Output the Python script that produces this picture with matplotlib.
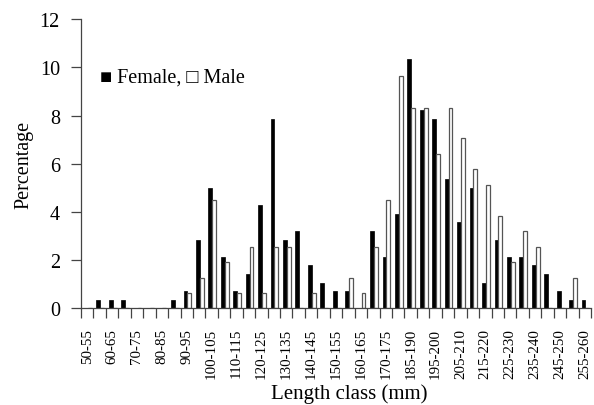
import numpy as np
import matplotlib
matplotlib.use("Agg")
import matplotlib.pyplot as plt

# =========================
# data (percent per length class)
# =========================
LENGTH_CLASSES = [
    "50-55", "55-60", "60-65", "65-70", "70-75", "75-80", "80-85", "85-90",
    "90-95", "95-100", "100-105", "105-110", "110-115", "115-120", "120-125",
    "125-130", "130-135", "135-140", "140-145", "145-150", "150-155",
    "155-160", "160-165", "165-170", "170-175", "175-180", "185-190",
    "190-195", "195-200", "200-205", "205-210", "210-215", "215-220",
    "220-225", "225-230", "230-235", "235-240", "240-245", "245-250",
    "250-255", "255-260",
]

FEMALE = [
    0, 0.36, 0.36, 0.36, 0, 0, 0, 0.36, 0.71, 2.86,
    5.00, 2.14, 0.71, 1.43, 4.29, 7.86, 2.86, 3.21, 1.79, 1.07,
    0.71, 0.71, 0, 3.21, 2.14, 3.93, 10.36, 8.21, 7.86, 5.36,
    3.57, 5.00, 1.07, 2.86, 2.14, 2.14, 1.79, 1.43, 0.71, 0.36,
    0.36,
]

MALE = [
    0, 0, 0, 0, 0, 0, 0, 0, 0.64, 1.28,
    4.49, 1.92, 0.64, 2.56, 0.64, 2.56, 2.56, 0, 0.64, 0,
    0, 1.28, 0.64, 2.56, 4.49, 9.62, 8.33, 8.33, 6.41, 8.33,
    7.05, 5.77, 5.13, 3.85, 1.92, 3.21, 2.56, 0, 0, 1.28,
    0,
]

Y_TICKS = [0, 2, 4, 6, 8, 10, 12]

plt.rcParams["font.family"] = ["Liberation Serif", "DejaVu Serif"]
AXIS_COLOR = "#444444"


def main():
    n = len(LENGTH_CLASSES)
    centers = np.arange(n) + 0.5
    bar_w = 0.31

    fig = plt.figure(figsize=(5.94, 4.06), dpi=100)
    ax = fig.add_axes([0.1364, 0.2377, 0.8586, 0.713])

    ax.bar(centers - 0.105, FEMALE, width=bar_w, color="black",
           edgecolor="black", linewidth=0.5)
    ax.bar(centers + 0.205, MALE, width=bar_w, color="white",
           edgecolor="#555555", linewidth=0.9)

    ax.set_xlim(0, n)
    ax.set_ylim(0, 12)

    # spines
    for side in ["top", "right"]:
        ax.spines[side].set_visible(False)
    for side in ["left", "bottom"]:
        ax.spines[side].set_color(AXIS_COLOR)
        ax.spines[side].set_linewidth(0.9)

    # y axis
    ax.set_yticks(Y_TICKS)
    ax.set_yticklabels([str(v) for v in Y_TICKS])
    ax.tick_params(axis="y", direction="out", length=7.2, width=0.9,
                   color=AXIS_COLOR, labelsize=14.5, pad=8)

    # x axis: ticks on class borders, labels every other class
    ax.set_xticks(np.arange(n + 1))
    ax.set_xticklabels([])
    ax.tick_params(axis="x", which="major", direction="out", length=7.2,
                   width=0.9, color=AXIS_COLOR)
    label_pos = centers[::2]
    ax.set_xticks(label_pos, minor=True)
    ax.set_xticklabels(LENGTH_CLASSES[::2], minor=True, rotation=90,
                       fontsize=10.8)
    ax.tick_params(axis="x", which="minor", length=0, pad=14)

    ax.set_ylabel("Percentage", fontsize=14.5)
    ax.yaxis.set_label_coords(-0.094, 0.5)
    ax.set_xlabel("Length class (mm)", fontsize=15)
    ax.xaxis.set_label_coords(0.525, -0.258)
    ax.xaxis.label.set_va("top")

    # legend written as text like the original
    ax.text(1.5, 9.6, "■ Female, □ Male", fontsize=14.5, va="center",
            ha="left")

    fig.savefig("out.png", dpi=100)
    plt.close(fig)


if __name__ == "__main__":
    main()
